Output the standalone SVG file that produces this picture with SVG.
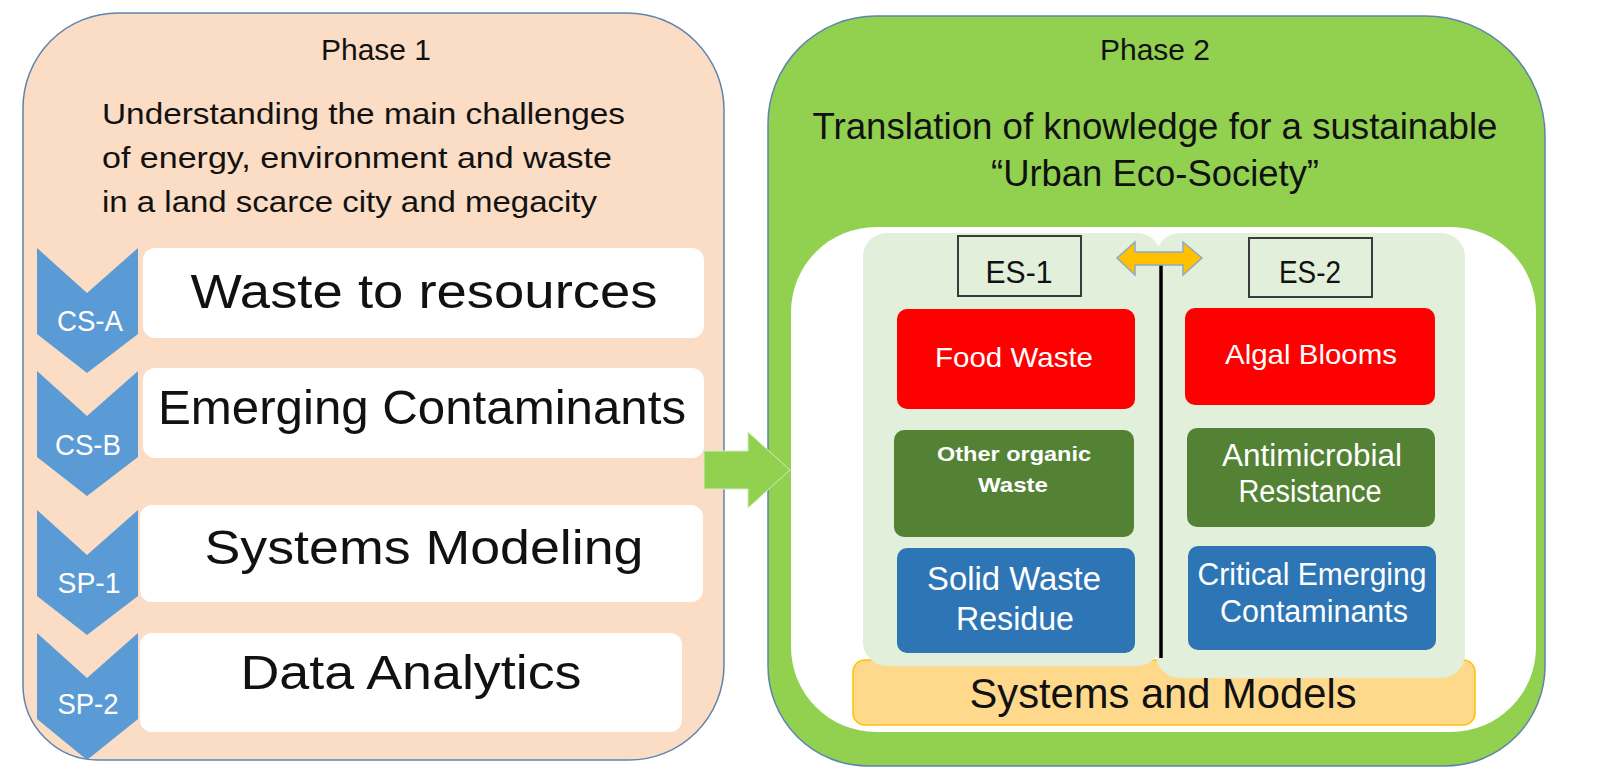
<svg xmlns="http://www.w3.org/2000/svg" width="1603" height="784" viewBox="0 0 1603 784">
<style>
text{font-family:"Liberation Sans",Arial,sans-serif;fill:#111}
.wt{fill:#fff}
.big{font-size:49px}
.chev{fill:#5B9BD5}
.lbl{font-size:30px;fill:#fff}
.wbox{fill:#fff}
.es{fill:#E2EFDA;stroke:#3a3a3a;stroke-width:2}
</style>
<rect width="1603" height="784" fill="#fff"/>
<g id="phase1">
<path d="M118,13 H627 A97,97 0 0 1 724,110 V665 A95,95 0 0 1 629,760 H98 A75,75 0 0 1 23,685 V108 A95,95 0 0 1 118,13 Z" fill="#FBDCC4" stroke="#5E84AE" stroke-width="1.5"/>
<text x="376" y="60" font-size="29" text-anchor="middle" textLength="110" lengthAdjust="spacingAndGlyphs">Phase 1</text>
<text x="102" y="124" font-size="30" textLength="523" lengthAdjust="spacingAndGlyphs">Understanding the main challenges</text>
<text x="102" y="168" font-size="30" textLength="510" lengthAdjust="spacingAndGlyphs">of energy, environment and waste</text>
<text x="102" y="212" font-size="30" textLength="495" lengthAdjust="spacingAndGlyphs">in a land scarce city and megacity</text>
</g>
<g id="cs-a">
<rect class="wbox" x="143" y="248" width="561" height="90" rx="12"/>
<path class="chev" d="M37,248 L87,293 L138,248 L138,334 L87,373 L37,334 Z"/>
<text class="lbl" x="90" y="331" text-anchor="middle" textLength="66" lengthAdjust="spacingAndGlyphs">CS-A</text>
<text class="big" x="424" y="308" text-anchor="middle" textLength="467" lengthAdjust="spacingAndGlyphs">Waste to resources</text>
</g>
<g id="cs-b">
<rect class="wbox" x="143" y="368" width="561" height="90" rx="12"/>
<path class="chev" d="M37,371 L87,416 L138,371 L138,457 L87,496 L37,457 Z"/>
<text class="lbl" x="88" y="455" text-anchor="middle" textLength="66" lengthAdjust="spacingAndGlyphs">CS-B</text>
<text class="big" x="422" y="424" text-anchor="middle" textLength="528" lengthAdjust="spacingAndGlyphs">Emerging Contaminants</text>
</g>
<g id="sp-1">
<rect class="wbox" x="140" y="505" width="563" height="97" rx="12"/>
<path class="chev" d="M37,510 L87,555 L138,510 L138,596 L87,635 L37,596 Z"/>
<text class="lbl" x="89" y="593" text-anchor="middle" textLength="63" lengthAdjust="spacingAndGlyphs">SP-1</text>
<text class="big" x="424" y="564" text-anchor="middle" textLength="439" lengthAdjust="spacingAndGlyphs">Systems Modeling</text>
</g>
<g id="sp-2">
<rect class="wbox" x="140" y="633" width="542" height="99" rx="12"/>
<path class="chev" d="M37,633 L87,678 L138,633 L138,719 L87,760 L37,719 Z"/>
<text class="lbl" x="88" y="714" text-anchor="middle" textLength="61" lengthAdjust="spacingAndGlyphs">SP-2</text>
<text class="big" x="411" y="689" text-anchor="middle" textLength="341" lengthAdjust="spacingAndGlyphs">Data Analytics</text>
</g>
<g id="phase2">
<path d="M876,16 H1425 A120,120 0 0 1 1545,136 V666 A100,100 0 0 1 1445,766 H868 A100,100 0 0 1 768,666 V124 A108,108 0 0 1 876,16 Z" fill="#92D050" stroke="#5E84AE" stroke-width="1.5"/>
<text x="1155" y="60" font-size="29" text-anchor="middle" textLength="110" lengthAdjust="spacingAndGlyphs">Phase 2</text>
<text x="1155" y="139" font-size="36" text-anchor="middle" textLength="685" lengthAdjust="spacingAndGlyphs">Translation of knowledge for a sustainable</text>
<text x="1155" y="186" font-size="36" text-anchor="middle" textLength="328" lengthAdjust="spacingAndGlyphs">“Urban Eco-Society”</text>
<rect x="791" y="227" width="745" height="505" rx="85" fill="#fff"/>
</g>
<g id="systems-models">
<rect x="853" y="660" width="622" height="65" rx="12" fill="#FED98C" stroke="#FFC000" stroke-width="1.5"/>
<text x="1163" y="708" font-size="42" text-anchor="middle" textLength="387" lengthAdjust="spacingAndGlyphs">Systems and Models</text>
</g>
<g id="es-panels">
<rect x="863" y="233" width="298" height="433" rx="24" fill="#E2EFDA"/>
<rect x="1156" y="233" width="309" height="445" rx="24" fill="#E2EFDA"/>
</g>
<g id="es-1">
<rect class="es" x="958" y="236" width="123" height="60"/>
<text x="1019" y="283" font-size="32" text-anchor="middle" textLength="67" lengthAdjust="spacingAndGlyphs">ES-1</text>
</g>
<g id="es-2">
<rect class="es" x="1249" y="238" width="123" height="59"/>
<text x="1310" y="283" font-size="32" text-anchor="middle" textLength="62" lengthAdjust="spacingAndGlyphs">ES-2</text>
</g>
<g id="food-waste">
<rect x="897" y="309" width="238" height="100" rx="10" fill="#FF0000"/>
<text class="wt" x="1014" y="367" font-size="28" text-anchor="middle" textLength="158" lengthAdjust="spacingAndGlyphs">Food Waste</text>
</g>
<g id="algal-blooms">
<rect x="1185" y="308" width="250" height="97" rx="10" fill="#FF0000"/>
<text class="wt" x="1311" y="364" font-size="28" text-anchor="middle" textLength="172" lengthAdjust="spacingAndGlyphs">Algal Blooms</text>
</g>
<g id="other-organic">
<rect x="894" y="430" width="240" height="107" rx="10" fill="#548235"/>
<text class="wt" x="1014" y="461" font-size="21" font-weight="bold" text-anchor="middle" textLength="154" lengthAdjust="spacingAndGlyphs">Other organic</text>
<text class="wt" x="1013" y="492" font-size="21" font-weight="bold" text-anchor="middle" textLength="70" lengthAdjust="spacingAndGlyphs">Waste</text>
</g>
<g id="antimicrobial">
<rect x="1187" y="428" width="248" height="99" rx="10" fill="#548235"/>
<text class="wt" x="1312" y="466" font-size="31" text-anchor="middle" textLength="180" lengthAdjust="spacingAndGlyphs">Antimicrobial</text>
<text class="wt" x="1310" y="502" font-size="31" text-anchor="middle" textLength="143" lengthAdjust="spacingAndGlyphs">Resistance</text>
</g>
<g id="solid-waste">
<rect x="897" y="548" width="238" height="105" rx="10" fill="#2E75B6"/>
<text class="wt" x="1014" y="590" font-size="33" text-anchor="middle" textLength="174" lengthAdjust="spacingAndGlyphs">Solid Waste</text>
<text class="wt" x="1015" y="630" font-size="33" text-anchor="middle" textLength="118" lengthAdjust="spacingAndGlyphs">Residue</text>
</g>
<g id="critical-ec">
<rect x="1188" y="546" width="248" height="104" rx="10" fill="#2E75B6"/>
<text class="wt" x="1312" y="585" font-size="31" text-anchor="middle" textLength="229" lengthAdjust="spacingAndGlyphs">Critical Emerging</text>
<text class="wt" x="1314" y="622" font-size="31" text-anchor="middle" textLength="188" lengthAdjust="spacingAndGlyphs">Contaminants</text>
</g>
<g id="connectors">
<line x1="1161" y1="262" x2="1161" y2="658" stroke="#000" stroke-width="3.5"/>
<polygon points="1117,258 1135,242 1135,252 1183,252 1183,242 1202,258 1183,275 1183,265 1135,265 1135,275" fill="#FFC000" stroke="#8EA9C8" stroke-width="1.5"/>
<polygon points="704,451 748,451 748,432 790,470 748,508 748,489 704,489" fill="#92D050" stroke="#D5EBC3" stroke-width="1"/>
</g>
</svg>
